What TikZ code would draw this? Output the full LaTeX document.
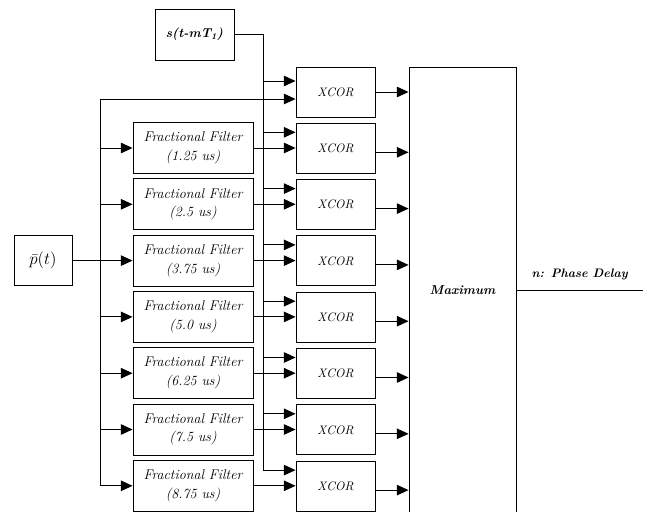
\documentclass[tikz,border=0pt]{standalone}
\usepackage{amsmath}
\usetikzlibrary{arrows.meta,positioning,calc}

\begin{document}
\begin{tikzpicture}[x=0.03cm, y=-0.03cm, line width=0.8pt,
    box/.style={draw, inner sep=1pt, align=center, font=\fontsize{11}{15}\selectfont\itshape},
    filt/.style={box, minimum width=3.6cm, minimum height=1.53cm, font=\fontsize{12}{16}\selectfont\itshape},
    xcor/.style={box, minimum width=2.37cm, minimum height=1.5cm, font=\fontsize{10.5}{14}\selectfont\itshape},
    bolds/.style={font=\fontsize{11}{14}\selectfont\bfseries\itshape},
    arr/.style={-{Triangle[length=10pt,width=9pt]}}]
    \useasboundingbox (0,0) rectangle (653,511);
    \clip (0,0) rectangle (653,511);

    % Inputs
    \node[box, bolds, minimum width=2.37cm, minimum height=1.53cm] (sig) at (194.5,34.5) {s(t-mT\textsubscript{1})};
    \node[box, minimum width=1.74cm, minimum height=1.5cm, font=\fontsize{15}{17}\selectfont] (pin) at (43,260.6) {$\bar{p}(t)$};

    % Filter bank and correlators
    \foreach \dly [count=\i] in {1.25,2.5,3.75,5.0,6.25,7.5,8.75}
        \node[filt] (f\i) at (193,{148+56.3*(\i-1)}) {Fractional Filter\\(\dly{} us)};
    \foreach \i in {0,...,7}
        \node[xcor] (x\i) at (335.5,{92+56.3*\i}) {XCOR};
    \node[box, bolds, minimum width=3.21cm, minimum height=13.38cm] (maxi) at (462.5,290) {Maximum};

    \coordinate (sbus) at (263,34.5);
    \coordinate (pbus) at (100,0);
    \coordinate (out) at (643,290);

    % Reference signal bus
    \foreach \i in {1,...,7}
        \coordinate (xa\i) at ($(x\i.west)+(0,-16)$);
    \coordinate (xa0) at ($(x0.west)+(0,-11)$);
    \draw (sig.east) -- (sbus) -- (sbus |- xa7);
    \foreach \i in {0,...,7}
        \draw[arr] (sbus |- xa\i) -- (xa\i);

    % Input bus
    \coordinate (xb0) at ($(x0.west)+(0,7)$);
    \draw (pin.east) -- (pin.east -| pbus);
    \draw (pbus |- xb0) -- (pbus |- f7.west);
    \draw[arr] (pbus |- xb0) -- (xb0);
    \foreach \i in {1,...,7} {
        \draw[arr] (pbus |- f\i.west) -- (f\i.west);
        \draw[arr] (f\i.east) -- (f\i.east -| x\i.west);
    }

    % Correlator outputs
    \draw[arr] (x0.east) -- (x0.east -| maxi.west);
    \foreach \i in {1,...,7} {
        \coordinate (xo\i) at ($(x\i.east)+(0,4)$);
        \draw[arr] (xo\i) -- (xo\i -| maxi.west);
    }

    % Result
    \draw (maxi.east |- out) -- (out) node[midway, above=5pt, bolds, font=\fontsize{10.5}{14}\selectfont\bfseries\itshape] {n: Phase Delay};
\end{tikzpicture}
\end{document}
